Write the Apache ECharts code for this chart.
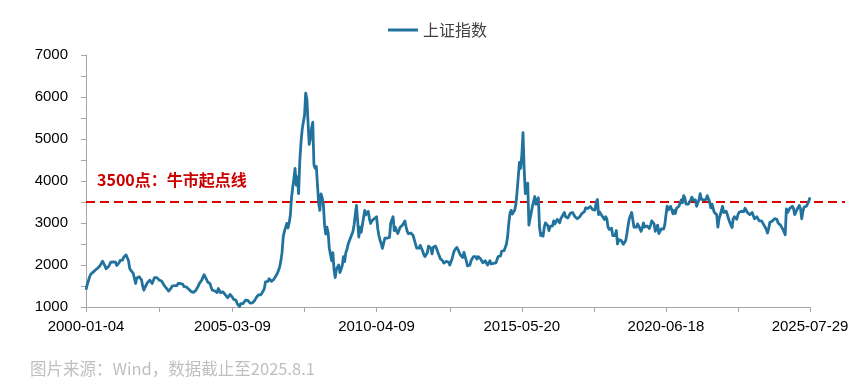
<!DOCTYPE html>
<html>
<head>
<meta charset="utf-8">
<script src="https://cdn.jsdelivr.net/npm/echarts@6/dist/echarts.min.js"></script>
<style>
html,body{margin:0;padding:0;background:#fff;}
#chart{width:865px;height:388px;}
</style>
</head>
<body>
<div id="chart"></div>
<script>
// 上证指数, approx. half-monthly readings (two per month), 2000-01 .. 2025-07
const shIndex = [
  1410,1530,1620,1714,1780,1800,1830,1836,1880,1894,1930,1928,1990,2023,2090,2097,1980,1911,1950,1961,2010,2070,2100,2073, // 2000
  2090,2066,1990,1960,2050,2112,2150,2119,2190,2214,2240,2218,2100,1920,1870,1834,1800,1755,1560,1690,1720,1720,1690,1646, // 2001
  1500,1400,1470,1524,1580,1604,1640,1625,1560,1517,1700,1732,1700,1654,1640,1668,1620,1581,1520,1509,1450,1426,1380,1358, // 2002
  1450,1500,1520,1511,1500,1507,1560,1521,1560,1577,1540,1487,1500,1477,1440,1421,1400,1367,1320,1349,1370,1397,1430,1497, // 2003
  1560,1590,1640,1675,1770,1742,1660,1595,1560,1555,1460,1399,1430,1386,1360,1342,1440,1396,1340,1320,1360,1340,1290,1266, // 2004
  1220,1191,1300,1306,1230,1181,1200,1160,1080,1060,1010,1080,1040,1083,1130,1162,1190,1155,1130,1092,1100,1099,1130,1161, // 2005
  1220,1258,1290,1299,1290,1298,1380,1440,1600,1641,1610,1672,1700,1612,1600,1658,1700,1752,1800,1837,1950,2099,2300,2675, // 2006
  2800,2786,2990,2881,3000,3183,3600,3841,4050,4300,3900,4100,3700,4471,4900,5218,5400,5552,6092,5954,5400,4871,5000,5261, // 2007
  5400,4383,4300,4348,3900,3472,3300,3693,3600,3433,2950,2736,2900,2775,2400,2397,2100,2293,1900,1700,1900,1871,2000,1821, // 2008
  1900,1990,2200,2082,2300,2373,2500,2477,2650,2633,2800,2959,3200,3420,3050,2667,2900,2779,2950,2996,3300,3195,3200,3277, // 2009
  3100,2989,3050,3051,3100,3110,3150,2870,2700,2592,2500,2398,2400,2638,2600,2639,2650,2656,3000,2979,3150,2820,2900,2808, // 2010
  2750,2790,2900,2905,2950,2928,3050,2911,2800,2743,2700,2762,2800,2701,2600,2567,2400,2359,2400,2468,2400,2333,2250,2199, // 2011
  2200,2292,2450,2428,2400,2263,2420,2397,2450,2373,2300,2225,2150,2103,2100,2047,2020,2086,2100,2069,2000,1980,2150,2269, // 2012
  2350,2385,2420,2366,2300,2237,2200,2178,2300,2301,2100,1979,2000,1994,2100,2098,2200,2175,2200,2141,2200,2220,2150,2116, // 2013
  2050,2033,2100,2056,2000,2033,2100,2026,2030,2039,2050,2048,2060,2202,2230,2217,2330,2364,2340,2420,2500,2683,3000,3235, // 2014
  3300,3210,3250,3310,3450,3748,4100,4442,4300,4612,5150,4277,3700,3664,3950,2950,3100,3053,3400,3383,3630,3445,3520,3600, // 2015
  2900,2700,2750,2688,2900,3004,3050,2938,2820,2917,2900,2930,3050,2979,3000,3085,3050,3005,3100,3100,3200,3250,3150,3104, // 2016
  3120,3159,3230,3242,3250,3223,3150,3155,3100,3117,3150,3192,3230,3273,3270,3361,3380,3349,3390,3393,3400,3317,3300,3307, // 2017
  3500,3560,3200,3259,3300,3169,3150,3082,3150,3095,2900,2847,2800,2876,2700,2725,2700,2821,2500,2603,2650,2588,2600,2494, // 2018
  2520,2585,2750,2941,3100,3091,3250,3078,2900,2899,2900,2979,2930,2933,2800,2886,3000,2905,2950,2929,2900,2871,2950,3050, // 2019
  3080,2977,2800,2880,2950,2750,2800,2860,2870,2852,2950,2985,3400,3310,3350,3396,3300,3218,3300,3225,3350,3392,3400,3473, // 2020
  3550,3483,3650,3600,3450,3442,3450,3447,3550,3615,3550,3591,3550,3397,3480,3544,3700,3568,3570,3547,3530,3564,3650,3640, // 2021
  3500,3361,3450,3462,3250,3252,3200,2900,3100,3186,3300,3399,3250,3253,3280,3202,3100,3024,2950,2893,3100,3151,3150,3089, // 2022
  3200,3255,3280,3280,3250,3273,3350,3323,3250,3205,3200,3202,3250,3291,3100,3120,3150,3110,3050,3018,3050,3030,2950,2975, // 2023
  2850,2760,2865,3015,3040,3041,3050,3105,3150,3087,3000,2967,2950,2939,2850,2842,2720,3336,3250,3280,3350,3326,3400,3352, // 2024
  3200,3250,3320,3321,3420,3336,3100,3279,3380,3347,3400,3444,3520,3610                                                      // 2025
];

// tick labels shown on the category axis and the indices they sit at
const tickLabels = ['2000-01-04','2005-03-09','2010-04-09','2015-05-20','2020-06-18','2025-07-29'];
const labelIdx   = [0, 124, 246, 369, 491, 613];
const tickIdx    = [0, 62, 124, 185, 246, 308, 369, 430, 491, 552, 613];

// categories: one per half-month
const categories = [];
for (let y = 2000; y <= 2025; y++) {
  for (let m = 1; m <= 12; m++) {
    for (let h = 0; h < 2; h++) {
      if (categories.length < shIndex.length) {
        categories.push(y + '-' + String(m).padStart(2, '0') + (h ? '-H2' : '-H1'));
      }
    }
  }
}
labelIdx.forEach((idx, i) => { categories[idx] = tickLabels[i]; });

const bullLine = 3500;
const seriesName = '上证指数';
const labelSet = new Set(labelIdx);
const tickSet = new Set(tickIdx);

const chart = echarts.init(document.getElementById('chart'), null, {renderer: 'canvas'});
const axisGray = '#a6a6a6';
const latin = '"Liberation Sans", Arial, sans-serif';
const cjk = '"Noto Sans CJK SC", "Noto Sans", sans-serif';

chart.setOption({
  animation: false,
  backgroundColor: '#ffffff',
  legend: {
    data: [seriesName],
    left: 383,
    top: 17,
    icon: 'rect',
    itemWidth: 30,
    itemHeight: 3,
    itemGap: 10,
    textStyle: {fontFamily: cjk, fontSize: 16, color: '#404040'}
  },
  grid: [
    {left: 86, right: 55, top: 55, bottom: 81, containLabel: false},
    {left: 86, right: 20, top: 55, bottom: 81, containLabel: false}
  ],
  xAxis: [
    {
      type: 'category',
      gridIndex: 0,
      data: categories,
      boundaryGap: false,
      axisLine: {show: true, lineStyle: {color: axisGray, width: 1}},
      axisTick: {show: true, length: 5, lineStyle: {color: axisGray}, interval: (i) => tickSet.has(i)},
      axisLabel: {
        interval: (i) => labelSet.has(i),
        margin: 12,
        fontFamily: latin, fontSize: 15, color: '#000000'
      },
      splitLine: {show: false}
    },
    {type: 'value', gridIndex: 1, min: 0, max: 1, show: false}
  ],
  yAxis: [
    {
      type: 'value',
      gridIndex: 0,
      min: 1000, max: 7000, interval: 1000,
      axisLine: {show: true, lineStyle: {color: axisGray, width: 1}},
      axisTick: {show: true, length: 5, lineStyle: {color: axisGray}},
      minorTick: {show: true, splitNumber: 2, length: 5, lineStyle: {color: axisGray}},
      axisLabel: {margin: 18, fontFamily: latin, fontSize: 15, color: '#000000', formatter: (v) => String(v)},
      splitLine: {show: false}
    },
    {type: 'value', gridIndex: 1, min: 1000, max: 7000, show: false}
  ],
  series: [
    {
      name: seriesName,
      type: 'line',
      xAxisIndex: 0, yAxisIndex: 0,
      data: shIndex,
      symbol: 'none',
      lineStyle: {color: '#22729e', width: 2.8, join: 'round'},
      itemStyle: {color: '#22729e'},
      z: 3
    },
    {
      name: '牛市起点线',
      type: 'line',
      xAxisIndex: 1, yAxisIndex: 1,
      data: [[0, bullLine], [1, bullLine]],
      symbol: 'none',
      silent: true,
      lineStyle: {color: '#dd0000', width: 2, type: [9, 5]},
      z: 2
    }
  ],
  graphic: [
    {
      type: 'text', left: 97, top: 172,
      style: {text: '3500点：牛市起点线', fill: '#cc0000', font: 'bold 16px ' + cjk}
    },
    {
      type: 'text', left: 30, top: 360,
      style: {text: '图片来源：Wind，数据截止至2025.8.1', fill: '#bfbfbf', font: '16.5px ' + cjk}
    }
  ]
});
</script>
</body>
</html>
